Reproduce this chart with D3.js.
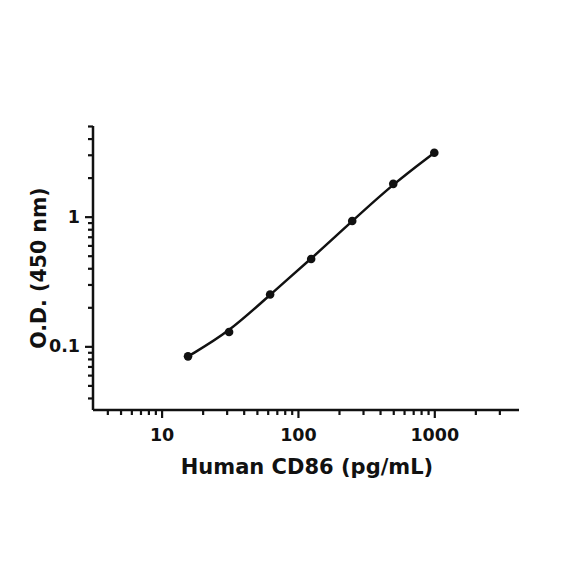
<!DOCTYPE html>
<html><head><meta charset="utf-8">
<script src="https://cdn.jsdelivr.net/npm/d3@7"></script>
<style>body{margin:0;background:#fff}svg{display:block}text{font-family:"DejaVu Sans",sans-serif;font-weight:bold;fill:#111}</style>
</head><body>
<svg id="c" width="584" height="584"></svg>
<script>
const concentrations = [15.625, 31.25, 62.5, 125, 250, 500, 1000];
const odValues = [0.0837, 0.129, 0.251, 0.472, 0.925, 1.79, 3.11];
const xTickLabels = [10, 100, 1000];
const yTickLabels = [0.1, 1];
const xMinorTicks = [4,5,6,7,8,9,20,30,40,50,60,70,80,90,200,300,400,500,600,700,800,900,2000,3000];
const yMinorTicks = [0.04,0.05,0.06,0.07,0.08,0.09,0.2,0.3,0.4,0.5,0.6,0.7,0.8,0.9,2,3,4,5];

(function(){
const svg = d3.select("#c");
const L = 93, R = 519, T = 126, B = 410;
const x = d3.scaleLog().domain([3.14, 4180]).range([L, R]);
const y = d3.scaleLog().domain([0.0323, 5]).range([B, T]);

const ink = "#111";
const gx = svg.append("g").attr("transform", `translate(0,${B})`);
gx.call(d3.axisBottom(x).tickValues(xTickLabels).tickFormat(d3.format("d")).tickSize(8).tickPadding(11));
gx.append("g").call(d3.axisBottom(x).tickValues(xMinorTicks).tickFormat("").tickSize(5)).select(".domain").remove();
const gy = svg.append("g").attr("transform", `translate(${L},0)`);
gy.call(d3.axisLeft(y).tickValues(yTickLabels).tickFormat(d => d === 1 ? "1" : "0.1").tickSize(8).tickPadding(5));
gy.append("g").call(d3.axisLeft(y).tickValues(yMinorTicks).tickFormat("").tickSize(5)).select(".domain").remove();
svg.selectAll(".domain").attr("stroke", ink).attr("stroke-width", 2.5);
gx.select(".domain").attr("d", `M${L},0H${R}`);
gy.select(".domain").attr("d", `M0,${T}V${B}`);
svg.selectAll(".tick line").attr("stroke", ink).attr("stroke-width", 2.2);
svg.selectAll(".tick text").attr("font-size", 17.5).attr("font-family", '"DejaVu Sans",sans-serif').attr("font-weight", "bold").attr("fill", ink);

const pts = concentrations.map((c, i) => [c, odValues[i]]);
const line = d3.line().x(d => x(d[0])).y(d => y(d[1])).curve(d3.curveBasis);
svg.append("path").datum(pts).attr("d", line).attr("fill", "none").attr("stroke", ink).attr("stroke-width", 2.5);
svg.selectAll("circle.pt").data(pts).join("circle").attr("class", "pt")
  .attr("cx", d => x(d[0])).attr("cy", d => y(d[1])).attr("r", 4.3).attr("fill", ink);

svg.append("text").attr("x", 307).attr("y", 474).attr("text-anchor", "middle").attr("font-size", 21).text("Human CD86 (pg/mL)");
svg.append("text").attr("transform", "translate(46,268) rotate(-90)").attr("text-anchor", "middle").attr("font-size", 20.5).text("O.D. (450 nm)");
})();
</script>
</body></html>
